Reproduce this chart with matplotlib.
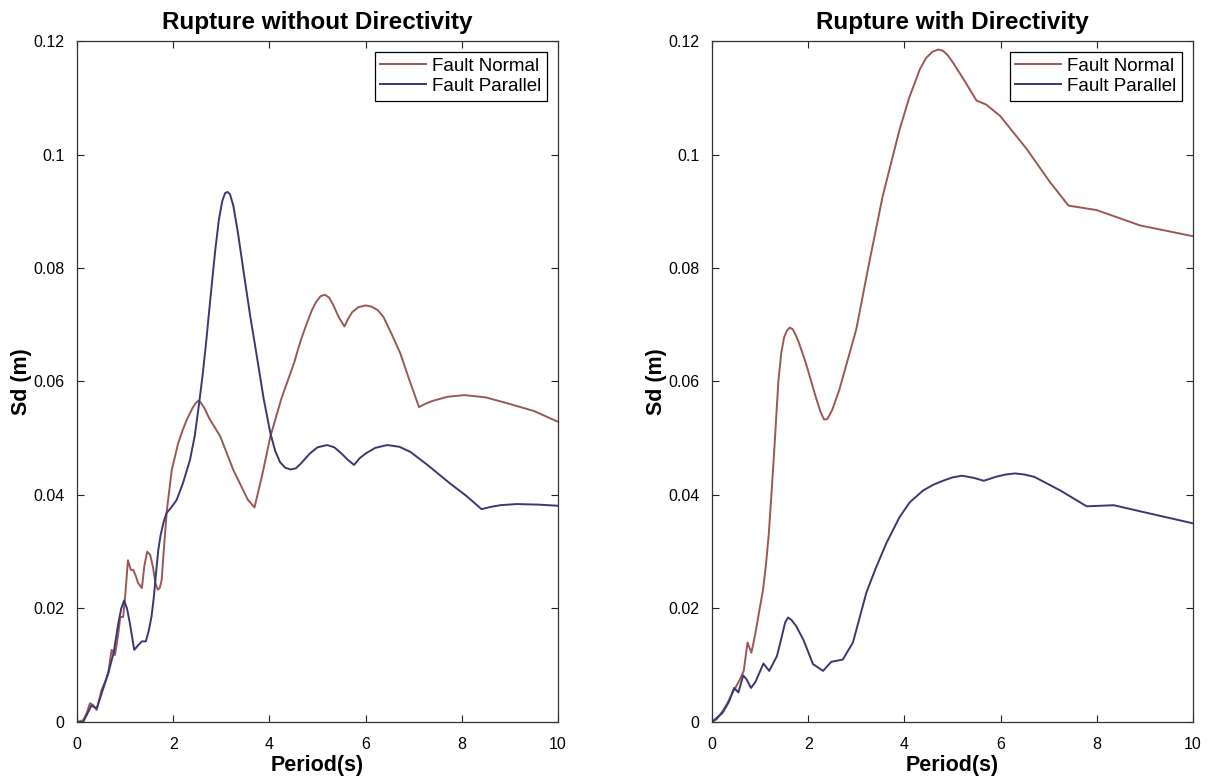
import matplotlib
matplotlib.use("Agg")
import matplotlib.pyplot as plt

plt.rcParams['font.family'] = ['Liberation Sans', 'DejaVu Sans']

# --- Spectral displacement, rupture without directivity ---
nd_fn_period = [0, 0.13, 0.2, 0.27, 0.33, 0.41, 0.51, 0.58, 0.65, 0.72, 0.79, 0.85, 0.90, 0.96,
                1.00, 1.06, 1.12, 1.17, 1.22, 1.27, 1.35, 1.40, 1.46, 1.52, 1.58, 1.63, 1.68,
                1.72, 1.76, 1.82, 1.87, 1.97, 2.10, 2.20, 2.28, 2.40, 2.47, 2.52, 2.57, 2.65,
                2.75, 2.98, 3.25, 3.40, 3.55, 3.69, 3.85, 4.02, 4.25, 4.51, 4.65, 4.78, 4.88,
                4.97, 5.06, 5.15, 5.24, 5.32, 5.45, 5.56, 5.64, 5.72, 5.85, 6.00, 6.12, 6.25,
                6.37, 6.55, 6.72, 6.90, 7.11, 7.25, 7.40, 7.70, 8.05, 8.50, 8.93, 9.50, 10.0]
nd_fn_sd = [0, 0.0003, 0.0015, 0.0033, 0.0030, 0.0021, 0.0056, 0.0070, 0.0086, 0.0127, 0.0118,
            0.0150, 0.0185, 0.0185, 0.0220, 0.0285, 0.0268, 0.0268, 0.0258, 0.0245, 0.0236,
            0.0275, 0.0300, 0.0295, 0.0273, 0.0245, 0.0233, 0.0236, 0.0250, 0.0320, 0.0374,
            0.0444, 0.0490, 0.0515, 0.0532, 0.0553, 0.0562, 0.0566, 0.0563, 0.0553, 0.0535,
            0.0503, 0.0444, 0.0418, 0.0392, 0.0378, 0.0435, 0.0503, 0.0570, 0.0632, 0.0672,
            0.0703, 0.0725, 0.0740, 0.0750, 0.0753, 0.0748, 0.0736, 0.0712, 0.0697, 0.0711,
            0.0722, 0.0731, 0.0734, 0.0732, 0.0726, 0.0714, 0.0682, 0.0650, 0.0605, 0.0555,
            0.0561, 0.0566, 0.0573, 0.0576, 0.0572, 0.0562, 0.0548, 0.0529]

nd_fp_period = [0, 0.13, 0.30, 0.41, 0.55, 0.65, 0.76, 0.86, 0.92, 0.98, 1.04, 1.10, 1.19, 1.27,
                1.35, 1.43, 1.49, 1.55, 1.60, 1.65, 1.69, 1.74, 1.80, 1.86, 1.96, 2.07, 2.20,
                2.35, 2.45, 2.54, 2.61, 2.68, 2.78, 2.875, 2.95, 3.02, 3.08, 3.13, 3.18, 3.25,
                3.35, 3.47, 3.60, 3.74, 3.88, 4.02, 4.12, 4.22, 4.33, 4.44, 4.55, 4.65, 4.84,
                5.00, 5.20, 5.35, 5.50, 5.63, 5.76, 5.88, 6.00, 6.20, 6.45, 6.70, 6.93, 7.30,
                7.76, 8.10, 8.41, 8.60, 8.80, 9.14, 9.60, 10.0]
nd_fp_sd = [0, 0.0, 0.0029, 0.0024, 0.0060, 0.0086, 0.0121, 0.0174, 0.0200, 0.0214, 0.0200,
            0.0174, 0.0127, 0.0135, 0.0142, 0.0142, 0.0160, 0.0186, 0.0222, 0.0268, 0.0303,
            0.0330, 0.0352, 0.0368, 0.0378, 0.0391, 0.0420, 0.0462, 0.0505, 0.0562, 0.0610,
            0.0665, 0.0752, 0.0832, 0.0885, 0.0918, 0.0932, 0.0934, 0.0930, 0.0910, 0.0860,
            0.0790, 0.0716, 0.0644, 0.0570, 0.0509, 0.0478, 0.0458, 0.0448, 0.0445, 0.0447,
            0.0455, 0.0473, 0.0484, 0.0488, 0.0484, 0.0473, 0.0462, 0.0453, 0.0465, 0.0473,
            0.0483, 0.0488, 0.0485, 0.0476, 0.0452, 0.0420, 0.0398, 0.0375, 0.0379, 0.0382,
            0.0384, 0.0383, 0.0381]

# --- Spectral displacement, rupture with directivity ---
d_fn_period = [0, 0.1, 0.22, 0.32, 0.43, 0.57, 0.66, 0.74, 0.82, 0.90, 0.99, 1.06, 1.12, 1.18,
               1.23, 1.30, 1.38, 1.44, 1.50, 1.56, 1.62, 1.68, 1.74, 1.80, 1.95, 2.15, 2.25,
               2.33, 2.40, 2.50, 2.65, 3.00, 3.27, 3.55, 3.90, 4.10, 4.32, 4.45, 4.58, 4.70,
               4.80, 4.90, 5.01, 5.25, 5.50, 5.70, 5.99, 6.54, 7.03, 7.41, 8.00, 8.90, 10.0]
d_fn_sd = [0, 0.0005, 0.0019, 0.0033, 0.0052, 0.0073, 0.0090, 0.0140, 0.0122, 0.0155, 0.0199,
           0.0232, 0.0275, 0.0330, 0.0393, 0.0486, 0.0600, 0.0650, 0.0678, 0.0690, 0.0695,
           0.0692, 0.0682, 0.0670, 0.0633, 0.0575, 0.0548, 0.0533, 0.0534, 0.0550, 0.0586,
           0.0692, 0.0810, 0.0927, 0.1044, 0.1100, 0.1150, 0.1170, 0.1181, 0.1185, 0.1183,
           0.1175, 0.1162, 0.1130, 0.1095, 0.1088, 0.1068, 0.1010, 0.0951, 0.0910, 0.0902,
           0.0875, 0.0856]

d_fp_period = [0, 0.22, 0.35, 0.46, 0.55, 0.65, 0.72, 0.81, 0.90, 1.07, 1.19, 1.35, 1.45, 1.52,
               1.58, 1.65, 1.75, 1.90, 2.10, 2.31, 2.48, 2.72, 2.93, 3.21, 3.40, 3.63, 3.90,
               4.11, 4.39, 4.60, 4.80, 5.00, 5.20, 5.45, 5.65, 5.90, 6.10, 6.30, 6.50, 6.70,
               7.24, 7.79, 8.35, 9.12, 10.0]
d_fp_sd = [0, 0.0016, 0.0035, 0.0060, 0.0052, 0.0082, 0.0075, 0.0060, 0.0070, 0.0103, 0.0090,
           0.0116, 0.0150, 0.0175, 0.0184, 0.0180, 0.0169, 0.0145, 0.0102, 0.0090, 0.0106,
           0.0110, 0.0140, 0.0228, 0.0270, 0.0316, 0.0361, 0.0387, 0.0408, 0.0418, 0.0425,
           0.0431, 0.0434, 0.0430, 0.0425, 0.0432, 0.0436, 0.0438, 0.0436, 0.0432, 0.0408,
           0.0380, 0.0382, 0.0367, 0.0350]

titles = ["Rupture without Directivity", "Rupture with Directivity"]
series_labels = ["Fault Normal", "Fault Parallel"]
x_ticks = [0, 2, 4, 6, 8, 10]
y_ticks = [0, 0.02, 0.04, 0.06, 0.08, 0.1, 0.12]
y_tick_labels = ["0", "0.02", "0.04", "0.06", "0.08", "0.1", "0.12"]

FN_COLOR = "#9c5654"
FP_COLOR = "#383872"

fig = plt.figure(figsize=(12.16, 7.8), dpi=100)
ax_left = fig.add_axes([0.0633, 0.0744, 0.3956, 0.8730])
ax_right = fig.add_axes([0.5855, 0.0744, 0.3956, 0.8730])

panels = [
    (ax_left, nd_fn_period, nd_fn_sd, nd_fp_period, nd_fp_sd),
    (ax_right, d_fn_period, d_fn_sd, d_fp_period, d_fp_sd),
]

for (ax, fn_x, fn_y, fp_x, fp_y), title in zip(panels, titles):
    ax.plot(fn_x, fn_y, color=FN_COLOR, lw=1.4, label=series_labels[0])
    ax.plot(fp_x, fp_y, color=FP_COLOR, lw=1.4, label=series_labels[1])
    ax.set_xlim(0, 10)
    ax.set_ylim(0, 0.12)
    ax.set_xticks(x_ticks)
    ax.set_xticklabels([str(t) for t in x_ticks])
    ax.set_yticks(y_ticks)
    ax.set_yticklabels(y_tick_labels)
    ax.tick_params(direction="in", top=True, right=True, length=5, width=0.8,
                   labelsize=11.5, colors="#222222", labelcolor="black")
    ax.tick_params(axis="x", pad=11)
    ax.tick_params(axis="y", pad=9)
    for side in ax.spines.values():
        side.set_color("#333333")
        side.set_linewidth(0.9)
    ax.set_title(title, fontsize=17.5, fontweight="bold", pad=9)
    ax.set_xlabel("Period(s)", fontsize=15.5, fontweight="bold", labelpad=2)
    ax.set_ylabel("Sd (m)", fontsize=15.5, fontweight="bold", labelpad=1)
    leg = ax.legend(loc="upper right", fontsize=13.5, frameon=True, fancybox=False,
                    borderpad=0.3, handlelength=2.45, handletextpad=0.3,
                    labelspacing=0.15, borderaxespad=0.6)
    leg.get_frame().set_edgecolor("black")
    leg.get_frame().set_linewidth(0.9)
    leg.get_frame().set_alpha(1.0)

fig.savefig("out.png", dpi=100)
